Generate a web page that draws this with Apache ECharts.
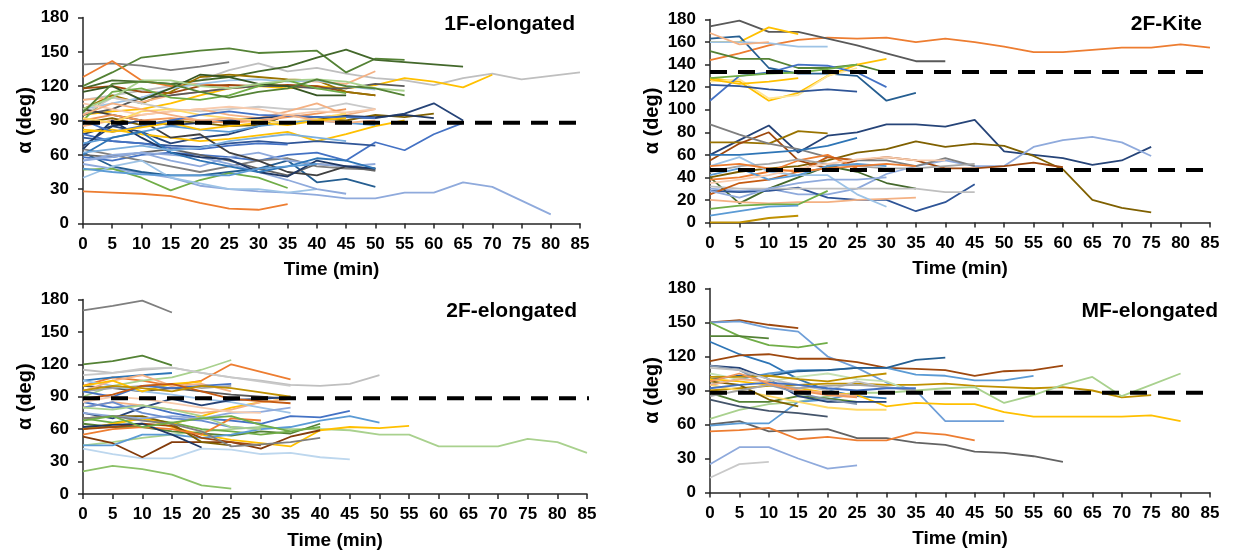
<!DOCTYPE html>
<html>
<head>
<meta charset="utf-8">
<script src="https://cdn.jsdelivr.net/npm/echarts@6/dist/echarts.min.js"></script>
<style>
html,body{margin:0;padding:0;background:#fff;}
#c{width:1236px;height:554px;}
</style>
</head>
<body>
<div id="c"></div>
<script>
// ---------- DATA ----------
const TIMES = [0,5,10,15,20,25,30,35,40,45,50,55,60,65,70,75,80,85];
const X_TICKS = [0,5,10,15,20,25,30,35,40,45,50,55,60,65,70,75,80,85];
const TITLES = ['1F-elongated','2F-Kite','2F-elongated','MF-elongated'];
const Y_NAME = 'α (deg)';
const X_NAME = 'Time (min)';

// reference (dashed) levels per panel
const P1_REF = [88];
const P2_REF = [133.5, 46.5];
const P3_REF = [88.5];
const P4_REF = [88];

// 1F-elongated
const P1_LINES = [
 [28,27,26,24,18,13,12,17],
 [52,48,44,40,33,30,28,27,25,22,22,27,27,36,32,20,8],
 [108,112,116,120,125,134,140,133,136,131,127,125,121,127,131,126,129,132],
 [95,98,100,105,112,118,120,118,120,118,121,127,124,119,130],
 [120,132,145,148,151,153,149,150,151,132,144,143],
 [118,125,124,122,125,128,133,137,145,152,143,141,139,137],
 [68,85,80,70,75,78,85,95,93,93,92,96,105,90],
 [58,55,60,62,60,58,55,60,62,55,71,64,78,88],
 [62,50,45,42,42,45,48,55,36,39,32],
 [65,60,55,50,45,50,55,57,50,48,47],
 [60,58,62,65,60,55,48,42,52,50,46],
 [139,140,138,134,137,141],
 [128,142,125,120,122,120],
 [118,120,115,114,120,121,120,121,120,115,112],
 [100,112,105,115,128,130,128,126,125,115,112],
 [108,110,106,112,115,118,120,125,124,122,133],
 [95,100,110,112,115,118,120,120,118,118,122,120],
 [100,105,110,118,122,125,126,124,125,120,117],
 [90,115,118,110,108,112,120,125,118,114],
 [115,120,108,118,130,128,122,120,112,112],
 [95,110,105,100,98,100,102,100,100,105,100],
 [85,90,95,98,100,95,92,98,105,95,100],
 [88,92,86,90,88,85,86,95,92,90,95,93,96],
 [78,85,90,86,88,90,92,94,93,94,93,95,92],
 [80,82,78,75,72,74,77,80,72,78,85,90],
 [75,72,70,68,67,70,72,70,72,70,68],
 [78,72,70,66,65,68,70,69],
 [55,58,62,55,50,58,62,55,52,50,52],
 [47,48,40,29,38,44,40,31],
 [40,50,55,40,35,30,30,27,30],
 [55,60,62,60,58,52,45,38,30,26],
 [100,95,90,75,78,62,55,45,42,50,48],
 [65,90,75,62,58,56,45,41,55,50,48],
 [90,95,90,92,90,88,90,93,96,100],
 [105,100,95,98,100,102,100,95,98,97,100],
 [92,88,98,100,95,92,90,88,92,96],
 [70,75,80,85,82,80,85,88,90,88,86],
 [100,110,125,125,120,118,122,125,126,124,118,116],
 [97,122,124,122,115,110,115,118,126,120,118,112],
 [90,80,85,90,95,98,95,94,93,93,92],
 [95,105,100,95,90,92,88,95,90,88,90],
 [60,75,80,62,55,50,45,50,57,55,48],
 [48,45,43,42,42,42,48,50,52],
 [82,80,84,88,82,85,88,86,90,92],
 [62,65,68,64,66,72,75,78,75,72]
];
const P1_COLORS = ['#ED7D31','#8FAADC','#BFBFBF','#FFC000','#548235','#43682B','#264478','#4472C4','#255E91','#7F7F7F','#636363','#7F7F7F','#ED7D31','#9E480E','#997300','#F4B183','#595959','#9DC3E6','#70AD47','#375623','#C9C9C9','#F4B183','#7F6000','#203864','#FFC000','#2F5597','#4472C4','#8FAADC','#70AD47','#9DC3E6','#8FAADC','#404040','#1F3864','#F1975A','#F8CBAD','#FFD966','#5B9BD5','#A9D18E','#548235','#4472C4','#F4B183','#2E75B6','#5B9BD5','#FFC000','#7CAFDD'];

// 2F-Kite
const P2_LINES = [
 [144,150,157,162,164,163,164,160,163,160,156,151,151,153,155,155,158,155],
 [174,179,169,169,163,157,150,143,143],
 [160,160,173,167],
 [163,165,137,132,132,130,108,115],
 [160,160,159,156,156],
 [168,158,160],
 [152,145,145,137,137,140,133],
 [128,125,108,115,130,140,145],
 [125,127,110,113,130,137],
 [108,130,133,140,139,133,120],
 [122,121,118,116,118,116],
 [128,130,132,133,136,140],
 [127,123,125,128],
 [60,73,86,62,77,80,87,87,85,91,63,60,57,51,55,67],
 [71,71,70,81,79],
 [40,45,48,50,55,62,65,72,67,70,68,59,47,20,13,9],
 [30,28,30,25,25,30,43,50,55,50,50,67,73,76,71,59],
 [55,70,80,55,48,55,58,55,48,48,50,53,49],
 [87,78,70,65,58,55,55,50,57,50],
 [60,60,62,64,68,75],
 [40,17,30,40,50,45,35,30],
 [28,27,28,31,22,20,20,10,18,34],
 [32,30,30,30,30,30,30,30,27,27],
 [20,18,17,18,18,20,21,22],
 [12,15,16,16,28],
 [6,10,14,15],
 [0,0,4,6],
 [38,40,45,55,60,48],
 [25,35,38,45,58,55],
 [50,58,45,42,42,25,14],
 [45,50,52,56,52,50,48,48,50,52],
 [42,48,38,42,50,52,50],
 [35,38,42,48,52,56,58,55,55],
 [28,22,30,35,38,38,40],
 [50,52,48,45,48,50,52,50]
];
const P2_COLORS = ['#ED7D31','#595959','#FFC000','#255E91','#9DC3E6','#F4B183','#548235','#FFC000','#FFE699','#4472C4','#2F5597','#70AD47','#FFC000','#264478','#997300','#7F6000','#8FAADC','#9E480E','#7F7F7F','#2E75B6','#43682B','#2F5597','#BFBFBF','#F4B183','#70AD47','#5B9BD5','#BF9000','#ED7D31','#C55A11','#9DC3E6','#A5A5A5','#5B9BD5','#F8CBAD','#8FAADC','#ED7D31'];

// 2F-elongated
const P3_LINES = [
 [170,174,179,168],
 [120,123,128,119],
 [21,26,23,18,8,5],
 [45,48,52,55,58,60,62,60,60,59,55,55,44,44,44,51,48,38],
 [115,112,115,117,112,108,105,101,100,102,110],
 [100,108,105,100,105,120,113,106],
 [60,65,70,62,55,50,47,44,59,62,61,63],
 [85,80,82,75,70,68,65,72,71,77],
 [42,37,33,33,42,41,37,38,34,32],
 [53,47,34,48,48,48,42,53,59],
 [105,108,110,112],
 [90,100,105,108,115,124],
 [100,98,95,98,95,92,90,88],
 [95,98,100,102,98,100],
 [65,62,62,58,56,54,58,56,65],
 [70,66,70,66,60,58,55,58],
 [60,65,70,65,72,80,85,88],
 [80,85,82,78,75,78,85,88],
 [105,100,95,92,88,85,80,75],
 [75,70,80,88,82,87,88,90],
 [45,45,55,55,52,55,60,62,68,72,66],
 [110,112,116,117,112,108,104,100],
 [60,62,65,63,52,48,45],
 [70,72,72,65,48,45],
 [75,72,70,72,70,75,76,80],
 [80,85,75,70,68,62,60],
 [95,105,110,100,102,95],
 [55,60,62,60,55,70,68],
 [80,78,82,78,72,62,60],
 [100,105,95,102,104],
 [95,90,100,98,100,102],
 [70,72,68,65,58,44,46,48,52],
 [62,64,65,55,43],
 [85,90,88,84,80,76,75],
 [88,92,100,102,95,88,86,84],
 [96,100,98,95,100,98,94,90],
 [68,72,62,66,70,72,64,58,62]
];
const P3_COLORS = ['#7F7F7F','#548235','#8CC168','#A9D18E','#BFBFBF','#ED7D31','#FFC000','#4472C4','#BDD7EE','#843C0C','#2E75B6','#A9D18E','#595959','#A5A5A5','#548235','#70AD47','#FFC000','#F4B183','#9DC3E6','#264478','#5B9BD5','#C9C9C9','#9E480E','#7F6000','#8FAADC','#698ED0','#F4B183','#ED7D31','#A9D18E','#FFC000','#4472C4','#7F7F7F','#1F3864','#F8CBAD','#C55A11','#BF9000','#70AD47'];

// MF-elongated
const P4_LINES = [
 [150,152,148,145],
 [150,151,145,142,120,110,97,90,63,63,63],
 [150,138,130,128,132],
 [138,138,136],
 [133,122,114,100,90,85,83],
 [116,121,122,118,118,115,110,109,108,103,107,108,112],
 [95,100,105,108,108,110,110,104,103,99,99,103],
 [100,103,103,107,108,110,110,117,119],
 [90,92,94,95,96,96,95,95,96,94,93,92,93,90,84,86],
 [65,73,78,80,85,88,88,90,92,93,79,86,95,102,85,95,105],
 [100,98,95,92,88,86,76,79,78,78,71,67,67,67,67,68,63],
 [60,63,54,55,56,48,48,44,42,36,35,32,27],
 [54,55,57,47,49,46,46,53,51,46],
 [25,40,40,30,21,24],
 [13,25,27],
 [59,61,61,80,82,88],
 [82,76,72,70,67],
 [88,80,80,85,83,80],
 [112,110,100,85,80,80,80],
 [95,90,85,80,75,73,73],
 [98,95,82,76],
 [112,108,95,88,82,78],
 [105,100,98,102,105,100,98,88],
 [102,102,103,100,98,102,105],
 [95,100,98,90,88,85],
 [110,108,100,95,90,98,92],
 [85,90,95,92,94,95,93,90],
 [92,95,97,95,92,90,92,92],
 [98,105,96,90,86,84]
];
const P4_COLORS = ['#9E480E','#6F9FD8','#70AD47','#548235','#2E75B6','#9E480E','#5B9BD5','#255E91','#BF9000','#A9D18E','#FFC000','#636363','#ED7D31','#8FAADC','#C9C9C9','#5B9BD5','#44546A','#548235','#264478','#FFD966','#7F6000','#8497B0','#C5E0B4','#BF9000','#F4B183','#BFBFBF','#A5A5A5','#4472C4','#F1975A'];

// ---------- CHART ----------
const PANELS = [
 {lines:P1_LINES, colors:P1_COLORS, refs:P1_REF, interval:30},
 {lines:P2_LINES, colors:P2_COLORS, refs:P2_REF, interval:20},
 {lines:P3_LINES, colors:P3_COLORS, refs:P3_REF, interval:30},
 {lines:P4_LINES, colors:P4_COLORS, refs:P4_REF, interval:30}
];
const GRIDS = [
 {left:83, top:17.5, width:497, height:206},
 {left:710, top:19.5, width:500, height:203},
 {left:83, top:299.5, width:504, height:194.5},
 {left:710, top:288.5, width:500, height:204}
];
const TITLE_POS = [
 {right:656, top:9},
 {right:29, top:9},
 {right:654, top:296},
 {right:13, top:296}
];
const FONT = '"Liberation Sans", Arial, sans-serif';
const AXIS_COLOR = '#262626';

const chart = echarts.init(document.getElementById('c'), null, {renderer:'canvas'});
const xAxes = [], yAxes = [], series = [], titles = [];
PANELS.forEach((p, k) => {
  xAxes.push({
    type:'value', gridIndex:k, min:X_TICKS[0], max:X_TICKS[X_TICKS.length-1], interval:5,
    name:X_NAME, nameLocation:'middle', nameGap:37,
    nameTextStyle:{fontFamily:FONT, fontWeight:'bold', fontSize:19, color:'#000'},
    axisLine:{show:true, onZero:false, lineStyle:{color:AXIS_COLOR, width:1.5}},
    axisTick:{show:true, length:5, lineStyle:{color:AXIS_COLOR, width:1.5}},
    axisLabel:{fontFamily:FONT, fontWeight:'bold', fontSize:17, color:'#000', margin:12},
    splitLine:{show:false}
  });
  yAxes.push({
    type:'value', gridIndex:k, min:0, max:180, interval:p.interval,
    name:Y_NAME, nameLocation:'middle', nameGap:48, nameRotate:90,
    nameTextStyle:{fontFamily:FONT, fontWeight:'bold', fontSize:20, color:'#000'},
    axisLine:{show:true, lineStyle:{color:AXIS_COLOR, width:1.5}},
    axisTick:{show:true, length:5, lineStyle:{color:AXIS_COLOR, width:1.5}},
    axisLabel:{fontFamily:FONT, fontWeight:'bold', fontSize:17, color:'#000', margin:14},
    splitLine:{show:false}
  });
  titles.push(Object.assign({
    text:TITLES[k],
    textStyle:{fontFamily:FONT, fontWeight:'bold', fontSize:21, color:'#000'}
  }, TITLE_POS[k]));
  p.lines.forEach((vals, i) => {
    series.push({
      type:'line', xAxisIndex:k, yAxisIndex:k, symbol:'none', silent:true,
      data: vals.map((v, j) => [TIMES[j], v]),
      lineStyle:{width:1.8, color:p.colors[i % p.colors.length]},
      z:2
    });
  });
  p.refs.forEach(r => {
    series.push({
      type:'line', xAxisIndex:k, yAxisIndex:k, symbol:'none', silent:true, clip:false,
      data:[[X_TICKS[0], r], [X_TICKS[X_TICKS.length-1] + 1.8, r]],
      lineStyle:{width:4, color:'#000', type:[17,11]},
      z:5
    });
  });
});

chart.setOption({
  animation:false,
  backgroundColor:'#fff',
  title:titles,
  grid:GRIDS,
  xAxis:xAxes,
  yAxis:yAxes,
  series:series
});
</script>
</body>
</html>
